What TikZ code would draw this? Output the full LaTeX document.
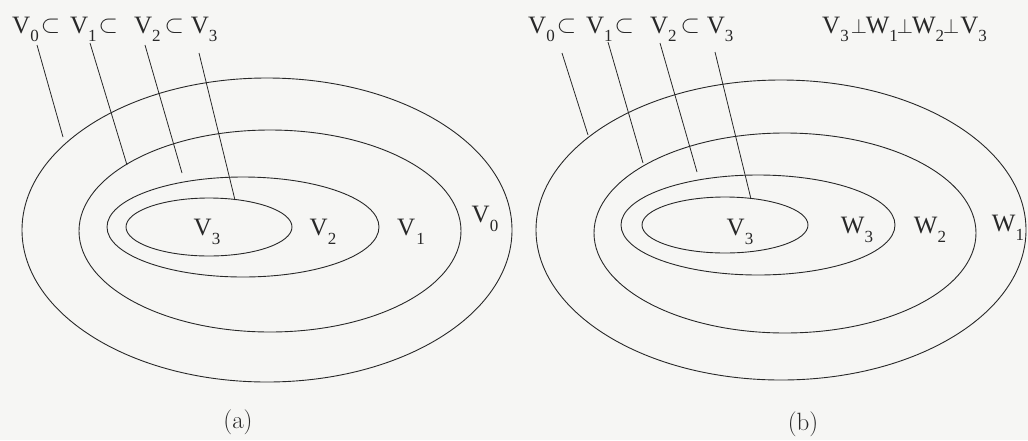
\documentclass[tikz,border=0pt]{standalone}
\usepackage{fontspec}
\newfontfamily\labfont{Liberation Serif}
\definecolor{paper}{RGB}{246,246,244}
\definecolor{ink}{RGB}{40,40,40}
\newcommand\vsub[3][0pt]{#2\kern#1\raisebox{-8.5pt}{\fontsize{17}{17}\selectfont #3}}
\newcommand\sub{\raisebox{1pt}{\fontsize{27}{27}\selectfont$\subset$}}
\newcommand\prp{\raisebox{0pt}{\fontsize{22}{22}\selectfont$\perp$}}
\begin{document}
\begin{tikzpicture}[x=1pt,y=-1pt,
  ring/.style={draw=ink,line width=0.9pt},
  leader/.style={draw=ink,line width=0.8pt},
  lab/.style={font=\labfont\fontsize{25}{27}\selectfont,text=ink,inner sep=0pt},
  captext/.style={font=\fontsize{25}{28}\selectfont,text=ink,inner sep=0pt}]
\fill[paper] (0,0) rectangle (1028,440);
\useasboundingbox (0,0) rectangle (1028,440);
% ---------- (a) ----------
\draw[ring] (267,230) ellipse [x radius=245, y radius=152];
\draw[ring] (270,231) ellipse [x radius=191, y radius=101];
\draw[ring] (243,227) ellipse [x radius=136, y radius=50];
\draw[ring] (209,227) ellipse [x radius=83, y radius=29];
\node[lab,anchor=base west] (ta) at (12,33)
  {\vsub{V}{0}\hspace{2pt}\sub\hspace{10pt}\vsub{V}{1}\hspace{2pt}\sub\hspace{16pt}\vsub{V}{2}\hspace{4pt}\sub\hspace{7pt}\vsub{V}{3}};
\node[lab] (a3) at (207,232) {\vsub{V}{3}};
\node[lab] (a2) at (323,232) {\vsub{V}{2}};
\node[lab] (a1) at (411,232) {\vsub[1pt]{V}{1}};
\node[lab] (a0) at (485,219) {\vsub{V}{0}};
\coordinate (a1s) at (37,45);  \coordinate (a1e) at (63,137);
\coordinate (a2s) at (90,43);  \coordinate (a2e) at (127,165);
\coordinate (a3s) at (145,45); \coordinate (a3e) at (182,173);
\coordinate (a4s) at (199,53); \coordinate (a4e) at (235,200);
\draw[leader] (a1s) -- (a1e);
\draw[leader] (a2s) -- (a2e);
\draw[leader] (a3s) -- (a3e);
\draw[leader] (a4s) -- (a4e);
\node[captext] (capa) at (238,422) {(a)};
% ---------- (b) ----------
\draw[ring] (781,230) ellipse [x radius=245, y radius=150];
\draw[ring] (785,233) ellipse [x radius=191, y radius=100];
\draw[ring] (758,225) ellipse [x radius=137, y radius=50];
\draw[ring] (725,225) ellipse [x radius=83, y radius=28];
\node[lab,anchor=base west] (tb) at (528,33)
  {\vsub{V}{0}\hspace{2pt}\sub\hspace{10pt}\vsub{V}{1}\hspace{2pt}\sub\hspace{16pt}\vsub{V}{2}\hspace{4pt}\sub\hspace{7pt}\vsub{V}{3}};
\node[lab,anchor=base west] (tc) at (822,33)
  {\vsub{V}{3}\hspace{2pt}\prp\kern-1pt\vsub{W}{1}\kern-1pt\prp\kern-1pt\vsub{W}{2}\kern-1pt\prp\kern1pt\vsub{V}{3}};
\node[lab] (b3) at (740,232) {\vsub{V}{3}};
\node[lab] (w3) at (857,230) {\vsub{W}{3}};
\node[lab] (w2) at (930,230) {\vsub{W}{2}};
\node[lab] (w1) at (1008,228) {\vsub{W}{1}};
\coordinate (b1s) at (562,53); \coordinate (b1e) at (588,135);
\coordinate (b2s) at (608,42); \coordinate (b2e) at (643,163);
\coordinate (b3s) at (660,43); \coordinate (b3e) at (697,172);
\coordinate (b4s) at (715,52); \coordinate (b4e) at (751,199);
\draw[leader] (b1s) -- (b1e);
\draw[leader] (b2s) -- (b2e);
\draw[leader] (b3s) -- (b3e);
\draw[leader] (b4s) -- (b4e);
\node[captext] (capb) at (803,424) {(b)};
\end{tikzpicture}
\end{document}
